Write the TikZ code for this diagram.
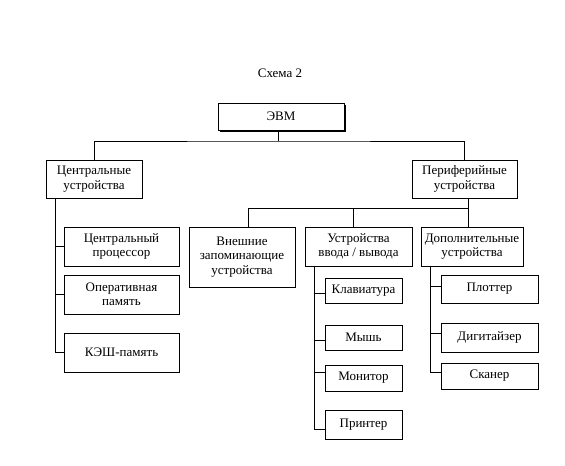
\documentclass[tikz,border=0pt]{standalone}
\usepackage{fontspec}
\setmainfont{Liberation Serif}
\begin{document}
\begin{tikzpicture}[x=1bp,y=-1bp,
  line width=0.8bp,
  box/.style={draw, fill=white, align=center, inner sep=0pt,
    font=\fontsize{13bp}{14.5bp}\selectfont}]
\useasboundingbox (0,0) rectangle (565,466);
\newcommand{\bx}[6]{\node[box, minimum width={(#4-#2)*1bp}, minimum height={(#5-#3)*1bp}] (#1) at ({(#2+#4)/2},{(#3+#5)/2}) {#6};}
\node[font=\fontsize{13bp}{14.5bp}\selectfont] (title) at (280,73) {Схема 2};
\fill (220,105) rectangle (346,132);
\bx{evm}{218}{103}{344}{130}{ЭВМ}
\bx{c}{46}{160}{142}{198}{Центральные\\устройства}
\bx{p}{412}{160}{517}{198}{Периферийные\\устройства}
\bx{cpu}{64}{227}{179}{266}{Центральный\\процессор}
\bx{ram}{64}{275}{179}{314}{Оперативная\\память}
\bx{cache}{64}{333}{179}{372}{КЭШ-память}
\bx{ext}{189}{227}{295}{287}{Внешние\\запоминающие\\устройства}
\bx{io}{305}{227}{412}{266}{Устройства\\ввода / вывода}
\bx{add}{421}{227}{523}{266}{Дополнительные\\устройства}
\bx{kb}{325}{278}{402}{303}{Клавиатура}
\bx{mouse}{325}{325}{402}{350}{Мышь}
\bx{mon}{325}{365}{402}{391}{Монитор}
\bx{prn}{325}{410}{402}{439}{Принтер}
\bx{plot}{441}{275}{538}{303}{Плоттер}
\bx{dig}{441}{323}{538}{352}{Дигитайзер}
\bx{scan}{441}{363}{538}{389}{Сканер}
% top level
\coordinate (j1) at (278,141);
\draw (evm.south -| j1) -- (j1);
\draw (c.north) |- (j1) -| (p.north);
% peripheral level
\coordinate (j2) at (468,208);
\coordinate (xe) at (248,0);
\coordinate (xi) at (353,0);
\draw (p.south -| j2) -- (add.north -| j2);
\draw (ext.north -| xe) |- (j2);
\draw (io.north -| xi) -- (xi |- j2);
% central tree
\coordinate (L) at (55,0);
\draw (c.south -| L) |- (cache.west);
\draw (L |- cpu.west) -- (cpu.west);
\draw (L |- ram.west) -- (ram.west);
% io tree
\coordinate (M) at (314,0);
\coordinate (bkb) at (314,293);
\coordinate (bmo) at (314,340);
\coordinate (bmn) at (314,372);
\coordinate (bpr) at (314,429);
\draw (io.south -| M) -- (bpr) -- (bpr -| prn.west);
\draw (bkb) -- (bkb -| kb.west);
\draw (bmo) -- (bmo -| mouse.west);
\draw (bmn) -- (bmn -| mon.west);
% add tree
\coordinate (bpl) at (430,286);
\coordinate (bdg) at (430,333);
\coordinate (bsc) at (430,372);
\draw (add.south -| bpl) -- (bsc) -- (bsc -| scan.west);
\draw (bpl) -- (bpl -| plot.west);
\draw (bdg) -- (bdg -| dig.west);
\end{tikzpicture}
\end{document}
